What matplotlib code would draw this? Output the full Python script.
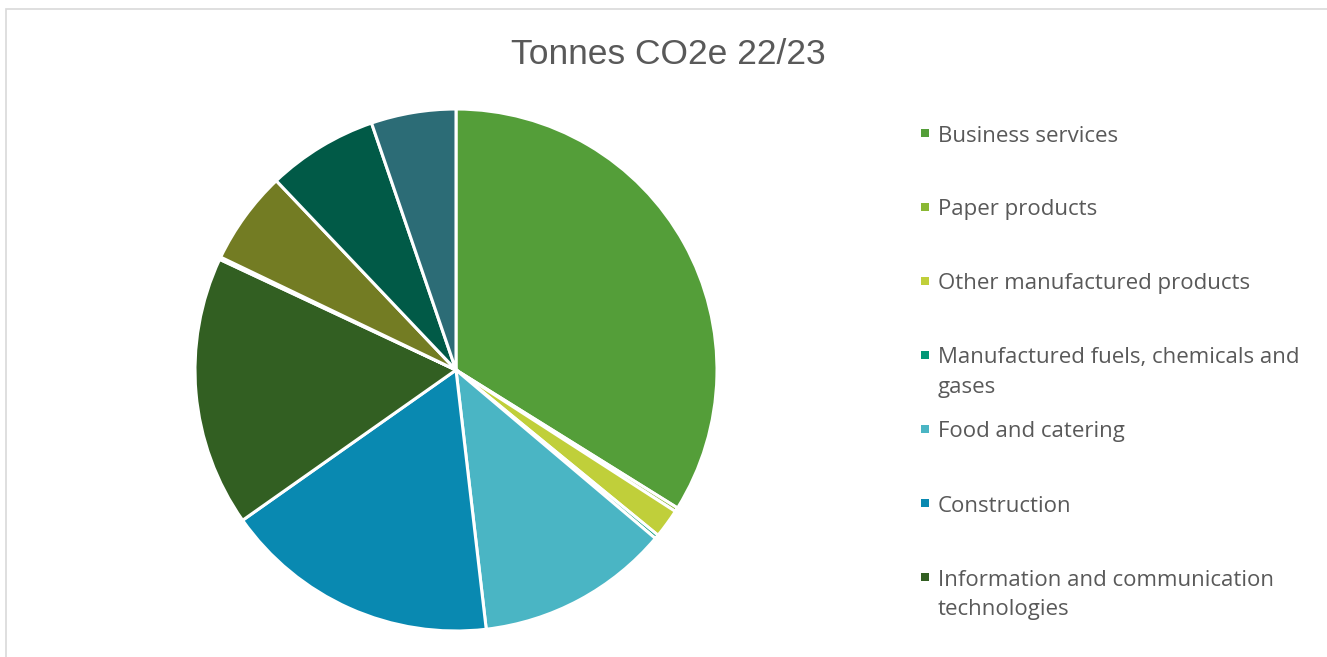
import matplotlib
matplotlib.use("Agg")
import matplotlib.pyplot as plt
from matplotlib.patches import Rectangle

categories = [
    "Business services",
    "Paper products",
    "Other manufactured products",
    "Manufactured fuels, chemicals and gases",
    "Food and catering",
    "Construction",
    "Information and communication technologies",
    "Category 8",
    "Category 9",
    "Category 10",
    "Category 11",
]
values = [33.9, 0.25, 1.8, 0.25, 12.0, 17.1, 16.75, 0.15, 5.8, 6.85, 5.25]
legend_labels = [
    "Business services",
    "Paper products",
    "Other manufactured products",
    "Manufactured fuels, chemicals and\ngases",
    "Food and catering",
    "Construction",
    "Information and communication\ntechnologies",
]
colors = ["#549E39", "#8AB833", "#C0CF3A", "#029676", "#4AB5C4", "#0989B1",
          "#325F22", "#536E1F", "#737C23", "#015A47", "#2C6C76"]

W, H = 1327, 657
fig = plt.figure(figsize=(W / 100, H / 100), dpi=100)
fig.patch.set_facecolor("white")

# border
fig.patches.append(Rectangle((6 / W, -0.1), 1.2, (H - 9) / H + 0.1, transform=fig.transFigure,
                             fill=False, edgecolor="#D9D9D9", linewidth=1.2))

cx, cy, r = 456, H - 370, 261
ax = fig.add_axes([(cx - r) / W, (cy - r) / H, 2 * r / W, 2 * r / H])
ax.pie(values, colors=colors, startangle=90, counterclock=False, radius=1,
       wedgeprops=dict(edgecolor="white", linewidth=2.2))
ax.set_xlim(-1, 1)
ax.set_ylim(-1, 1)
ax.set_aspect("equal")
ax.axis("off")

fig.text(668 / W, 1 - 54 / H, "Tonnes CO2e 22/23", ha="center", va="center",
         fontsize=25.5, color="#595959", family="Liberation Sans")

for i, lab in enumerate(legend_labels):
    ytop = 133 + 74 * i
    fig.patches.append(Rectangle((921 / W, 1 - (ytop + 4) / H), 8 / W, 8 / H,
                                 transform=fig.transFigure, facecolor=colors[i], edgecolor="none"))
    for j, line in enumerate(lab.split("\n")):
        fig.text(938 / W, 1 - (ytop + 3 + 29 * j) / H, line, ha="left", va="center",
                 fontsize=16, color="#595959", family="Open Sans")

fig.savefig("out.png", dpi=100, facecolor="white")
